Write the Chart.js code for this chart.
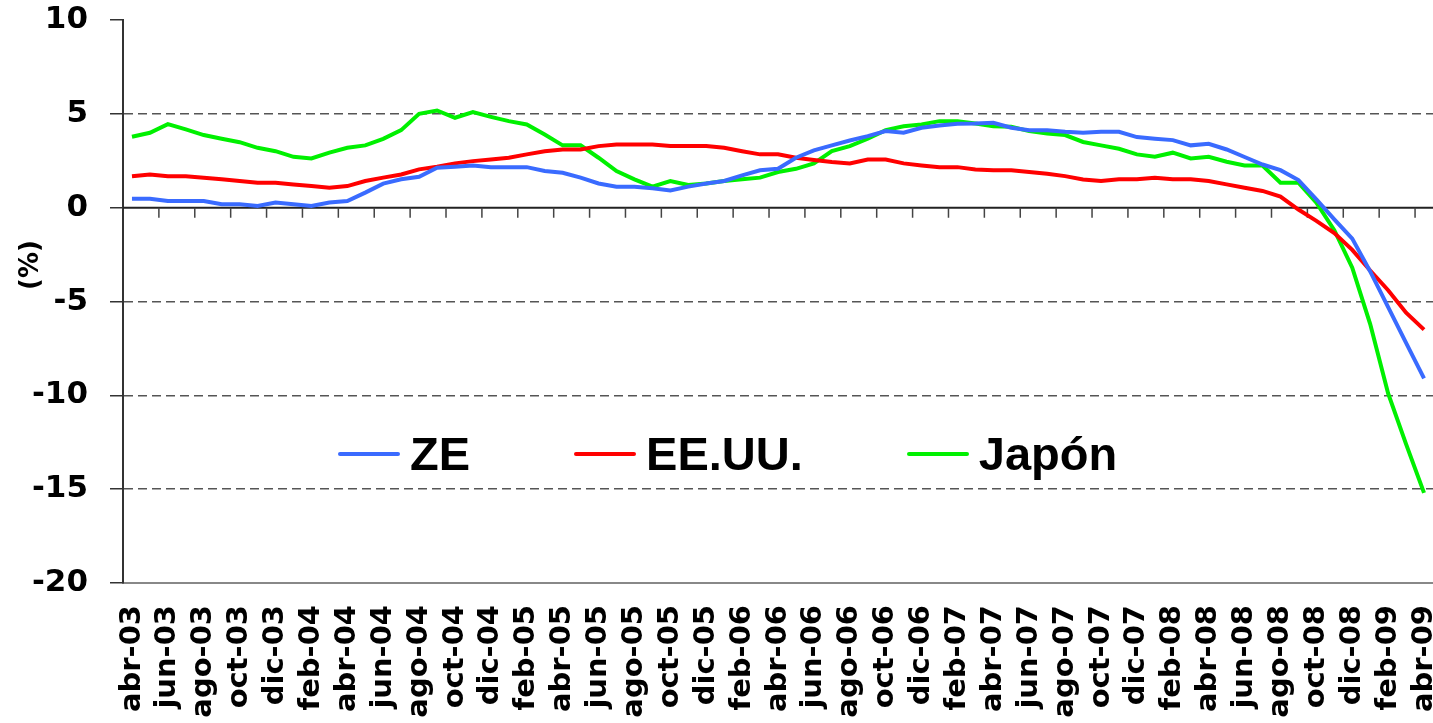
<!DOCTYPE html>
<html>
<head>
<meta charset="utf-8">
<script src="https://cdn.jsdelivr.net/npm/chart.js@4"></script>
<style>
  body { margin: 0; background: #fff; overflow: hidden; }
  #wrap { position: relative; width: 1433px; height: 723px; }
  #legend {
    position: absolute; left: 338px; top: 426px;
    display: flex; align-items: center;
    font: bold 47px "Liberation Sans", Arial, sans-serif; color: #000;
  }
  .item { display: flex; align-items: center; margin-right: 104px; }
  .swatch { width: 62px; height: 4px; border-radius: 2px; margin-right: 10px; }
</style>
</head>
<body>
<div id="wrap">
  <canvas id="chart"></canvas>
  <div id="legend"></div>
</div>
<script>
const FONT = '"DejaVu Sans", "Liberation Sans", Arial, sans-serif';

// meses, abr-03 .. abr-09
const monthNames = ['ene', 'feb', 'mar', 'abr', 'may', 'jun', 'jul', 'ago', 'sep', 'oct', 'nov', 'dic'];
const labels = [];
for (let y = 3, m = 3; ; m++) {
    if (m === 12) { m = 0; y++; }
    if (y === 9 && m > 3) break;
    labels.push(monthNames[m] + '-0' + y);
}

const zeData = [
    0.48, 0.48, 0.35, 0.35, 0.35, 0.18, 0.18, 0.09, 0.27, 0.18,
    0.09, 0.27, 0.35, 0.80, 1.28, 1.51, 1.65, 2.13, 2.18, 2.25,
    2.16, 2.16, 2.16, 1.95, 1.86, 1.60, 1.29, 1.12, 1.12, 1.03,
    0.92, 1.12, 1.29, 1.42, 1.72, 1.99, 2.07, 2.66, 3.05, 3.32,
    3.58, 3.81, 4.08, 3.99, 4.26, 4.38, 4.47, 4.48, 4.52, 4.26,
    4.13, 4.13, 4.04, 3.99, 4.04, 4.04, 3.76, 3.67, 3.60, 3.32,
    3.40, 3.10, 2.70, 2.30, 2.00, 1.47, 0.44, -0.62, -1.65, -3.4,
    -5.3, -7.2, -9.1
];

const eeuuData = [
    1.68, 1.77, 1.68, 1.68, 1.60, 1.51, 1.42, 1.33, 1.33, 1.24,
    1.15, 1.06, 1.15, 1.42, 1.60, 1.77, 2.04, 2.18, 2.36, 2.48,
    2.57, 2.66, 2.84, 3.01, 3.10, 3.10, 3.28, 3.37, 3.37, 3.37,
    3.28, 3.28, 3.28, 3.19, 3.01, 2.84, 2.84, 2.66, 2.54, 2.43,
    2.36, 2.57, 2.57, 2.36, 2.25, 2.16, 2.16, 2.04, 1.99, 1.99,
    1.90, 1.81, 1.68, 1.50, 1.42, 1.51, 1.51, 1.60, 1.51, 1.51,
    1.42, 1.24, 1.06, 0.89, 0.59, -0.1, -0.7, -1.35, -2.25, -3.35,
    -4.4, -5.6, -6.5
];

const japonData = [
    3.78, 3.99, 4.45, 4.17, 3.87, 3.67, 3.49, 3.19, 3.01, 2.71,
    2.62, 2.93, 3.19, 3.32, 3.67, 4.13, 5.00, 5.18, 4.79, 5.09,
    4.84, 4.61, 4.43, 3.90, 3.32, 3.32, 2.66, 1.95, 1.51, 1.12,
    1.42, 1.21, 1.29, 1.42, 1.51, 1.60, 1.90, 2.07, 2.36, 3.01,
    3.28, 3.67, 4.13, 4.34, 4.43, 4.61, 4.61, 4.48, 4.34, 4.31,
    4.08, 3.95, 3.87, 3.50, 3.32, 3.14, 2.84, 2.71, 2.93, 2.62,
    2.71, 2.45, 2.25, 2.25, 1.33, 1.33, 0.27, -1.2, -3.2, -6.2,
    -9.9, -12.6, -15.2
];

const seriesNames = ['ZE', 'EE.UU.', 'Japón'];
const seriesColors = ['#3a6bff', '#ff0000', '#00f000'];
const dashedValues = [5, -5, -10, -15];

// eje horizontal en y = 0 con sus marcas cada dos meses
const zeroAxis = {
    id: 'zeroAxis',
    beforeDatasetsDraw(chart) {
        const {ctx, chartArea, scales: {x, y}} = chart;
        const y0 = y.getPixelForValue(0);
        ctx.save();
        ctx.strokeStyle = '#222';
        ctx.lineWidth = 2;
        ctx.beginPath();
        ctx.moveTo(chartArea.left, y0);
        ctx.lineTo(chartArea.right, y0);
        ctx.stroke();
        ctx.strokeStyle = '#444';
        ctx.lineWidth = 1.5;
        ctx.beginPath();
        for (let i = 2; i < labels.length; i += 2) {
            const xp = (x.getPixelForValue(i - 1) + x.getPixelForValue(i)) / 2;
            ctx.moveTo(xp, y0);
            ctx.lineTo(xp, y0 + 10);
        }
        ctx.stroke();
        ctx.restore();
    }
};

const yTitle = {
    id: 'yTitle',
    afterDraw(chart) {
        const ctx = chart.ctx;
        ctx.save();
        ctx.translate(31, 265);
        ctx.rotate(-Math.PI / 2);
        ctx.font = 'bold 26px ' + FONT;
        ctx.fillStyle = '#000';
        ctx.textAlign = 'center';
        ctx.textBaseline = 'middle';
        ctx.fillText('(%)', 0, 0);
        ctx.restore();
    }
};

const datasets = [zeData, eeuuData, japonData].map((d, i) => ({
    label: seriesNames[i],
    data: d,
    borderColor: seriesColors[i],
    backgroundColor: seriesColors[i],
    borderWidth: 4,
    pointRadius: 0,
    tension: 0
}));

const chart = new Chart(document.getElementById('chart'), {
    type: 'line',
    data: { labels: labels, datasets: datasets },
    plugins: [zeroAxis, yTitle],
    options: {
        responsive: true,
        maintainAspectRatio: false,
        animation: false,
        layout: { padding: { top: 20, right: 0, left: 0, bottom: 0 } },
        plugins: {
            legend: { display: false },
            tooltip: { enabled: false }
        },
        scales: {
            x: {
                offset: true,
                grid: { display: false },
                border: { display: true, color: '#888', width: 2 },
                ticks: {
                    autoSkip: false,
                    maxRotation: 90,
                    minRotation: 90,
                    padding: 14,
                    color: '#000',
                    font: { family: FONT, size: 29, weight: 'bold' },
                    callback: function (v, i) { return i % 2 === 0 ? this.getLabelForValue(v) : ''; }
                },
                afterFit: s => {
                    s.height = 140;
                    s.paddingLeft = 0;
                    s.paddingRight = 0;
                }
            },
            y: {
                min: -20,
                max: 10,
                ticks: {
                    stepSize: 5,
                    padding: 22,
                    color: '#000',
                    font: { family: FONT, size: 31, weight: 'bold' }
                },
                grid: {
                    color: c => dashedValues.includes(c.tick.value) ? '#555' : 'rgba(0,0,0,0)',
                    lineWidth: 1.5,
                    tickLength: 13,
                    tickColor: '#333',
                    tickWidth: 1.5,
                    tickBorderDash: []
                },
                border: { display: true, color: '#333', width: 2, dash: [9, 5] },
                afterFit: s => {
                    s.width = 123;
                    s.paddingTop = 0;
                    s.paddingBottom = 0;
                }
            }
        }
    }
});

// leyenda dentro del área del gráfico
const legendEl = document.getElementById('legend');
chart.data.datasets.forEach(ds => {
    const item = document.createElement('div');
    item.className = 'item';
    const sw = document.createElement('span');
    sw.className = 'swatch';
    sw.style.background = ds.borderColor;
    const txt = document.createElement('span');
    txt.textContent = ds.label;
    item.appendChild(sw);
    item.appendChild(txt);
    legendEl.appendChild(item);
});
</script>
</body>
</html>
